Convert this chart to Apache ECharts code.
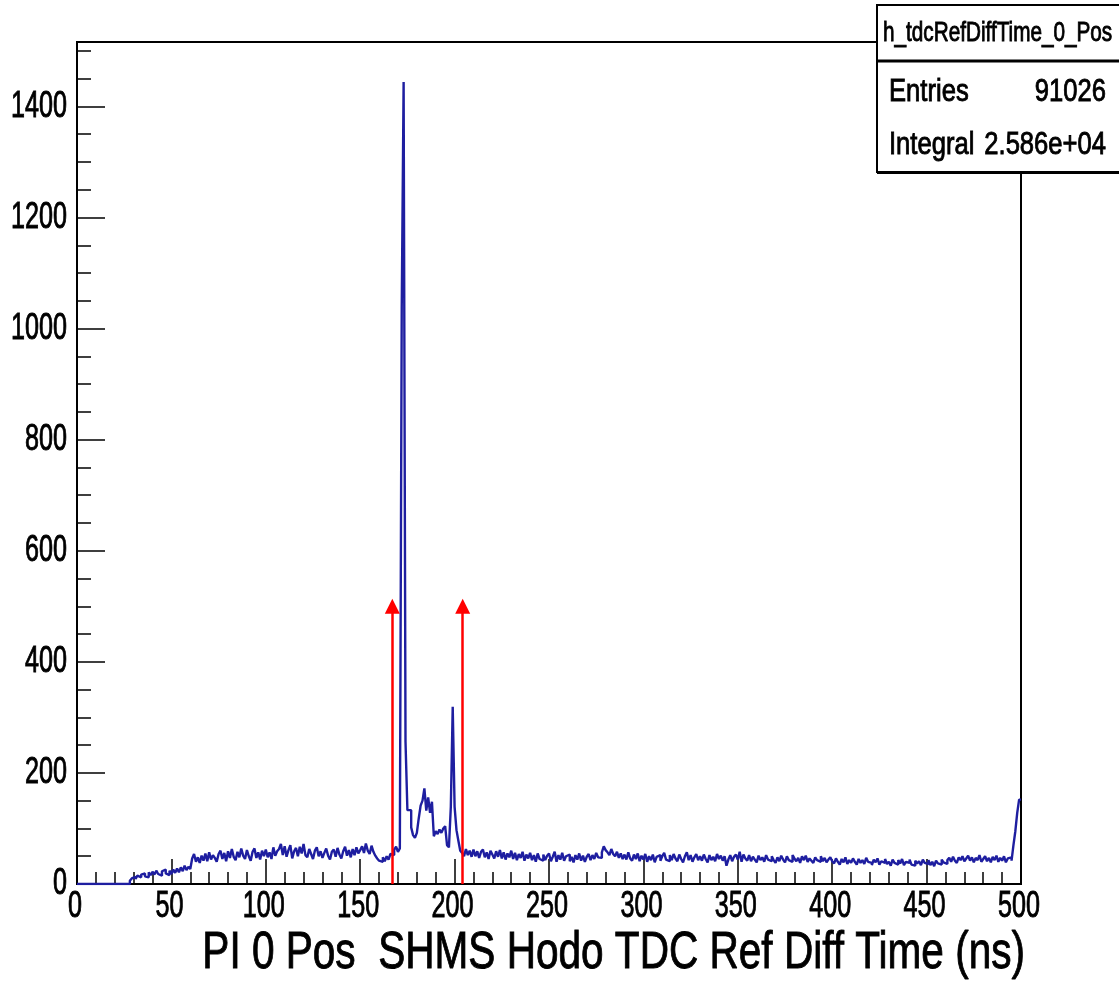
<!DOCTYPE html>
<html>
<head>
<meta charset="utf-8">
<script src="https://cdn.jsdelivr.net/npm/echarts@6/dist/echarts.min.js"></script>
<style>
  html, body { margin: 0; padding: 0; background: #ffffff; }
  #main { width: 1119px; height: 983px; }
</style>
</head>
<body>
<div id="main"></div>
<script>
// h_tdcRefDiffTime_0_Pos : 500 bins of 1 ns from 0 to 500 ns
const counts000 = [
  0,0,0,0,0,0,0,0,0,0,
  0,0,0,0,0,0,0,0,0,0,
  0,0,0,0,0,0,0,0,6,10,
  13,9,15,12,17,19,14,12,21,16,
  22,17,24,18,15,23,26,19,16,24
];
const counts050 = [
  18,26,20,28,21,30,23,33,25,31,
  27,46,54,40,48,38,51,42,55,41,
  57,44,52,47,40,54,60,45,56,41,
  59,47,63,49,43,58,48,64,51,45,
  61,50,42,58,64,47,57,44,60,50
];
const counts100 = [
  62,48,57,45,66,51,59,63,72,52,
  68,49,61,70,46,59,65,50,67,55,
  72,52,48,63,54,45,60,66,50,59,
  47,56,64,51,44,58,62,49,65,53,
  46,59,67,51,61,48,63,52,66,55
];
const counts150 = [
  61,68,56,73,60,54,69,58,51,46,
  42,40,48,41,50,44,54,52,62,67,
  58,64,1038,1444,256,133,133,102,88,83,
  92,118,141,150,172,132,156,128,148,86,
  95,90,98,92,100,104,70,66,139,319
];
const counts200 = [
  139,97,78,60,56,50,63,52,60,49,
  62,50,59,47,58,62,48,57,45,60,
  53,46,59,49,61,46,57,44,55,48,
  60,45,56,43,54,47,58,42,53,46,
  56,43,52,40,55,45,42,53,43,51
];
const counts250 = [
  55,41,49,58,40,52,44,56,42,50,
  53,41,49,39,52,44,55,42,51,40,
  49,54,43,52,45,56,48,47,57,68,
  61,57,52,63,54,50,58,47,55,45,
  53,44,57,46,42,53,45,55,41,51
];
const counts300 = [
  44,54,40,50,43,53,39,49,52,42,
  50,56,44,41,52,43,54,46,41,53,
  45,39,50,57,43,52,40,48,54,43,
  50,42,53,45,39,52,43,49,41,54,
  45,51,42,50,33,44,52,41,49,53
];
const counts350 = [
  44,58,40,53,46,42,52,41,49,44,
  39,51,43,48,40,52,44,41,50,43,
  38,48,41,51,44,39,50,43,40,52,
  46,41,47,38,50,43,51,40,46,42,
  38,48,43,40,50,41,47,39,44,48
];
const counts400 = [
  41,37,46,40,35,45,39,48,36,43,
  38,46,40,35,45,38,43,36,47,40,
  38,34,44,39,46,35,41,38,45,36,
  40,33,44,38,35,43,37,45,34,40,
  38,44,35,33,42,37,41,34,44,38
];
const counts450 = [
  36,43,34,40,32,42,37,35,44,39,
  36,43,47,40,49,42,38,48,43,50,
  41,46,51,42,48,39,47,43,52,40,
  45,50,41,47,39,49,43,51,40,47,
  42,50,39,46,48,42,70,95,128,152
];

const histName = 'h_tdcRefDiffTime_0_Pos';
const statLabels = ['Entries', 'Integral'];
const statValues = ['91026', '2.586e+04'];
const xTitle = 'PI 0 Pos  SHMS Hodo TDC Ref Diff Time (ns)';
const xTickLabels = ['0','50','100','150','200','250','300','350','400','450','500'];
const yTickLabels = ['0','200','400','600','800','1000','1200','1400'];
// timing window cut markers (ns) and their height (counts)
const cutTimes = [167, 204.3];
const cutHeight = 500;

const xMin = 0, xMax = 500, yMin = 0, yMax = 1516;
const FONT = '"Liberation Sans", Arial, Helvetica, sans-serif';

const counts = [].concat(counts000, counts050, counts100, counts150, counts200,
                         counts250, counts300, counts350, counts400, counts450);
// bin low edges with the step held to the next edge
const stepData = counts.map((c, i) => [xMin + i, c]);
stepData.push([xMax, counts[counts.length - 1]]);

const chart = echarts.init(document.getElementById('main'), null, { renderer: 'canvas' });

const option = {
  animation: false,
  backgroundColor: '#ffffff',
  grid: {
    left: 77, right: 98, top: 42, bottom: 99,
    show: true, borderColor: '#000000', borderWidth: 2, backgroundColor: 'transparent'
  },
  xAxis: {
    type: 'value', min: xMin, max: xMax, interval: 50,
    axisLine: { show: true, onZero: false, lineStyle: { color: '#000', width: 2 } },
    axisTick: { show: true, inside: true, length: 25, lineStyle: { color: '#000', width: 1.5 } },
    minorTick: { show: true, splitNumber: 5, length: 12, lineStyle: { color: '#000', width: 1.5 } },
    axisLabel: { show: false },
    splitLine: { show: false }
  },
  yAxis: [
    {
      type: 'value', min: yMin, max: yMax, interval: 200, position: 'left',
      axisLine: { show: true, onZero: false, lineStyle: { color: '#000', width: 2 } },
      axisTick: { show: true, inside: true, length: 28, lineStyle: { color: '#000', width: 1.5 } },
      axisLabel: { show: false },
      splitLine: { show: false }
    },
    {
      type: 'value', min: yMin, max: yMax, interval: 50, position: 'left',
      axisLine: { show: false },
      axisTick: { show: true, inside: true, length: 14, lineStyle: { color: '#000', width: 1.5 } },
      axisLabel: { show: false },
      splitLine: { show: false }
    }
  ],
  series: [
    {
      name: histName,
      type: 'line',
      step: 'end',
      data: stepData,
      showSymbol: false,
      symbol: 'none',
      sampling: 'none',
      clip: true,
      lineStyle: { color: '#1e1ea0', width: 2.4 },
      z: 3,
      markLine: {
        silent: true,
        animation: false,
        symbol: ['none', 'triangle'],
        symbolSize: [15, 15],
        lineStyle: { color: '#ff0000', width: 2.5, type: 'solid' },
        label: { show: false },
        emphasis: { disabled: true },
        data: cutTimes.map(t => [{ coord: [t, 0] }, { coord: [t, cutHeight] }])
      }
    }
  ]
};

chart.setOption(option);

// Helvetica-style text, horizontally condensed, with a hairline stroke for weight
function label(x, y, text, size, sx, align, z) {
  return {
    type: 'text', x: x, y: y, scaleX: sx, z: z,
    style: {
      text: text, fontSize: size, fontFamily: FONT, fill: '#000',
      stroke: '#000', lineWidth: 0.9,
      align: align, verticalAlign: 'middle'
    }
  };
}

function buildText() {
  const g = [];
  const yLabelRight = 67;
  yTickLabels.forEach(lbl => {
    const py = chart.convertToPixel({ yAxisIndex: 0 }, Number(lbl));
    g.push(label(yLabelRight, py, lbl, 37, 0.68, 'right', 10));
  });
  xTickLabels.forEach(lbl => {
    const px = chart.convertToPixel({ xAxisIndex: 0 }, Number(lbl));
    g.push(label(px - 2, 907, lbl, 37, 0.68, 'center', 10));
  });
  const xRight = chart.convertToPixel({ xAxisIndex: 0 }, xMax);
  g.push(label(xRight + 4, 954, xTitle, 52, 0.78, 'right', 10));

  // statistics box
  g.push({
    type: 'rect', z: 20,
    shape: { x: 877, y: 5, width: 260, height: 167 },
    style: { fill: '#ffffff', stroke: '#000000', lineWidth: 2 }
  });
  g.push({
    type: 'line', z: 21,
    shape: { x1: 877, y1: 172.5, x2: 1130, y2: 172.5 },
    style: { stroke: '#000000', lineWidth: 3 }
  });
  g.push({
    type: 'line', z: 21,
    shape: { x1: 877, y1: 61, x2: 1130, y2: 61 },
    style: { stroke: '#000000', lineWidth: 3 }
  });
  g.push(label(883, 33, histName, 28, 0.74, 'left', 22));
  const rowY = [92, 145];
  statLabels.forEach((lbl, i) => {
    g.push(label(889, rowY[i], lbl, 32, 0.8, 'left', 22));
    g.push(label(1106, rowY[i], statValues[i], 32, 0.8, 'right', 22));
  });
  return g;
}

chart.setOption({ graphic: buildText() });
</script>
</body>
</html>
